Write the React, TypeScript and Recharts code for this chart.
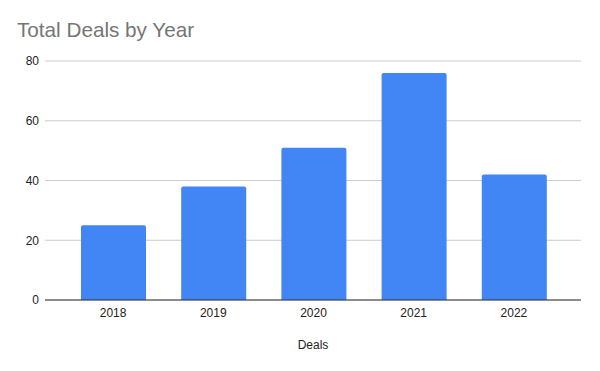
import React from "react";
import { BarChart, Bar, XAxis, YAxis, CartesianGrid } from "recharts";

const years = ["2018", "2019", "2020", "2021", "2022"];
const deals = [25, 38, 51, 76, 42];
const yTicks = [0, 20, 40, 60, 80];

const data = years.map((y, i) => ({ year: y, deals: deals[i] }));

const FONT = "Arial, 'Liberation Sans', sans-serif";

export default function App() {
  return (
    <div style={{ position: "absolute", left: 0, top: 0, width: 600, height: 371, background: "#fff" }}>
      <div
        style={{
          position: "absolute",
          left: 17,
          top: 18,
          fontFamily: FONT,
          fontSize: 20.7,
          color: "#757575",
          lineHeight: "24px",
          whiteSpace: "nowrap",
        }}
      >
        Total Deals by Year
      </div>
      <BarChart
        width={600}
        height={371}
        data={data}
        margin={{ top: 61, right: 19, bottom: 0, left: 0 }}
      >
        <CartesianGrid vertical={false} stroke="#cccccc" />
        <XAxis
          dataKey="year"
          height={71}
          padding={{ left: 18, right: 17 }}
          tickLine={false}
          tickSize={0}
          tickMargin={8}
          axisLine={{ stroke: "#333333" }}
          tick={{ fill: "#222222", fontSize: 12, fontFamily: FONT }}
          label={{
            value: "Deals",
            position: "insideBottom",
            offset: 22,
            fill: "#222222",
            fontSize: 12,
            fontFamily: FONT,
          }}
        />
        <YAxis
          width={45}
          domain={[0, 80]}
          ticks={yTicks}
          axisLine={false}
          tickLine={false}
          tickSize={0}
          tickMargin={6}
          tick={{ fill: "#222222", fontSize: 12, fontFamily: FONT }}
        />
        <Bar dataKey="deals" fill="#4285F4" barSize={65} radius={[2, 2, 0, 0]} isAnimationActive={false} />
      </BarChart>
    </div>
  );
}
